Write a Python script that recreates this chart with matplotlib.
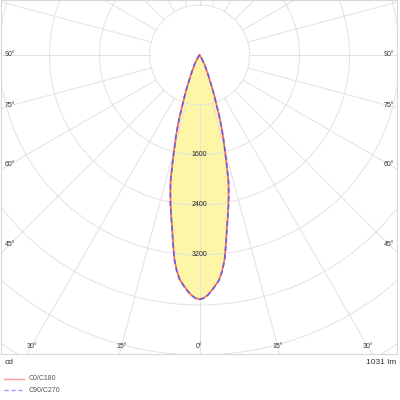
import numpy as np
import matplotlib
matplotlib.use('Agg')
import matplotlib.pyplot as plt
from matplotlib.lines import Line2D


# luminous intensity (cd) against angle from nadir (deg)
angles = [0, 1, 2, 3, 4, 5, 6, 7, 8, 9, 10, 11, 12, 13, 14, 15, 16, 17, 18, 19,
          20, 21, 22, 23, 24, 25, 26, 27, 28, 29, 30, 31, 32, 33, 34, 35, 36, 90]
c0_c180 = [3910, 3890, 3840, 3770, 3690, 3610, 3470, 3290, 3040, 2800,
           2610, 2425, 2240, 2053, 1786, 1562, 1380, 1196, 1010, 818,
           692, 575, 455, 380, 320, 270, 225, 190, 160, 130,
           100, 75, 55, 35, 20, 10, 0, 0]
c90_c270 = [3910, 3890, 3845, 3775, 3695, 3615, 3480, 3300, 3050, 2810,
            2620, 2435, 2250, 2060, 1790, 1565, 1383, 1198, 1012, 820,
            692, 575, 455, 380, 320, 270, 225, 190, 160, 130,
            100, 75, 55, 35, 20, 10, 0, 0]

ring_values = [800, 1600, 2400, 3200, 4000, 4800, 5600, 6400]
ring_labels = [1600, 2400, 3200]
angle_labels = [0, 15, 30, 45, 60, 75, 90]
series_names = ['C0/C180', 'C90/C270']
unit_label = 'cd'
flux_lm = 1031

grid_color = '#e2e2e2'
fill_color = '#fcf6a6'
red = '#ff6a4a'
blue = '#6a5cf0'

# 16 cd per pixel, centre of the diagram 55 px below the top edge
fig = plt.figure(figsize=(4, 4), dpi=100)
ax = fig.add_axes([1 / 400, 46 / 400, 396 / 400, 354 / 400])
ax.set_xlim(-3176, 3160)
ax.set_ylim(-4784, 880)
ax.set_aspect('equal')
ax.set_xticks([])
ax.set_yticks([])
for sp in ax.spines.values():
    sp.set_color('#d8d8d8')
    sp.set_linewidth(0.8)

# rings
t = np.linspace(0, 2 * np.pi, 400)
for r in ring_values:
    ax.plot(r * np.cos(t), r * np.sin(t), color=grid_color, lw=0.7, zorder=2)

# spokes every 15 deg, starting from the first ring
for a in range(0, 360, 15):
    rad = np.deg2rad(a)
    ax.plot([ring_values[0] * np.sin(rad), 9000 * np.sin(rad)],
            [-ring_values[0] * np.cos(rad), -9000 * np.cos(rad)],
            color=grid_color, lw=0.7, zorder=2)


def mirrored(ang, vals):
    ang = np.deg2rad(np.array(ang))
    vals = np.array(vals, dtype=float)
    th = np.concatenate([-ang[::-1], ang[1:]])
    iv = np.concatenate([vals[::-1], vals[1:]])
    return iv * np.sin(th), -iv * np.cos(th)


x0, y0 = mirrored(angles, c0_c180)
x1, y1 = mirrored(angles, c90_c270)
ax.fill(x0, y0, color=fill_color, lw=0, zorder=1)
ax.plot(x0, y0, color=red, lw=1.2, zorder=3)
ax.plot(x1, y1, color=blue, lw=1.2, ls=(0, (3, 2)), zorder=4)

# ring value labels along the 0 deg spoke
for r in ring_labels:
    ax.text(0, -r, str(r), ha='center', va='center', fontsize=5,
            family='Liberation Sans', color='#222222', zorder=5)

# angle labels where the spokes meet an inset frame
x_in = 3032
y_in = 4656
for a in angle_labels:
    rad = np.deg2rad(a)
    for side in ([1] if a == 0 else [-1, 1]):
        tx = x_in / np.sin(rad) if np.sin(rad) > 1e-9 else np.inf
        ty = y_in / np.cos(rad) if np.cos(rad) > 1e-9 else np.inf
        tt = min(tx, ty)
        ax.text(side * tt * np.sin(rad), -tt * np.cos(rad), f'{a}°',
                ha='center', va='center', fontsize=5,
                family='Liberation Sans', color='#333333', zorder=5)

# footer
fig.text(5 / 400, 1 - 362 / 400, unit_label, ha='left', va='center',
         fontsize=6, family='Liberation Sans', color='#333333')
fig.text(396 / 400, 1 - 362 / 400, f'{flux_lm} lm', ha='right', va='center',
         fontsize=6, family='Liberation Sans', color='#333333')

legend_styles = [dict(color='#ff9a9a', ls='-'), dict(color='#9a9aff', ls=(0, (3, 2)))]
for i, (name, st) in enumerate(zip(series_names, legend_styles)):
    yy = 1 - (379 + 11 * i) / 400
    fig.add_artist(Line2D([4 / 400, 24 / 400], [yy, yy], transform=fig.transFigure,
                          lw=1.0, **st))
    fig.text(29 / 400, yy, name, ha='left', va='center', fontsize=5,
             family='Liberation Sans', color='#555555')

fig.savefig('out.png', dpi=100)
